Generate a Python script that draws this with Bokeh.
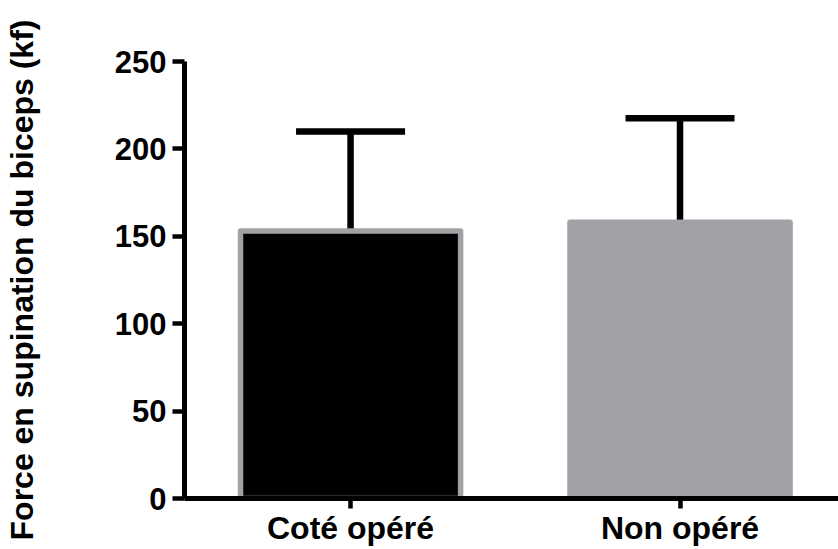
from bokeh.plotting import figure
from bokeh.models import Range1d, FixedTicker, ColumnDataSource, Whisker, TeeHead
from bokeh.embed import file_html
from bokeh.resources import INLINE

categories = ["Coté opéré", "Non opéré"]
means = [153, 158]
sds = [57, 59.5]
fill_colors = ["#000000", "#a2a1a6"]
y_ticks = [0, 50, 100, 150, 200, 250]

xpos = [i + 0.5 for i in range(len(categories))]
upper = [m + s for m, s in zip(means, sds)]

src = ColumnDataSource(dict(x=xpos, top=means, upper=upper, fill=fill_colors, cat=categories))

p = figure(width=838, height=549, output_backend="svg", toolbar_location=None,
           x_range=Range1d(-0.004, 1.981), y_range=Range1d(0, 250),
           min_border_left=184, min_border_right=0, min_border_top=61, min_border_bottom=51)

p.vbar(x="x", top="top", bottom=0, width=0.668, source=src, fill_color="fill",
       line_color="#a2a1a6", line_width=5.5, line_join="round")

wh = Whisker(source=src, base="x", upper="upper", lower="top", dimension="height",
             line_color="black", line_width=6.5,
             upper_head=TeeHead(size=109, line_color="black", line_width=6.5),
             lower_head=None)
p.add_layout(wh)

p.grid.visible = False
p.outline_line_color = None
p.background_fill_color = "white"
p.border_fill_color = "white"

font = "Liberation Sans"

p.yaxis.ticker = FixedTicker(ticks=y_ticks)
p.yaxis.axis_label = "Force en supination du biceps (kf)"
p.yaxis.axis_label_text_font = font
p.yaxis.axis_label_text_font_style = "bold"
p.yaxis.axis_label_text_font_size = "32px"
p.yaxis.axis_label_text_color = "black"
p.yaxis.axis_label_standoff = 72
p.yaxis.major_label_text_font = font
p.yaxis.major_label_text_font_style = "bold"
p.yaxis.major_label_text_font_size = "31px"
p.yaxis.major_label_text_color = "black"
p.yaxis.major_label_standoff = 6
p.yaxis.major_tick_out = 12

p.xaxis.ticker = FixedTicker(ticks=xpos)
p.xaxis.major_label_overrides = {x: c for x, c in zip(xpos, categories)}
p.xaxis.major_label_text_font = font
p.xaxis.major_label_text_font_style = "bold"
p.xaxis.major_label_text_font_size = "32px"
p.xaxis.major_label_text_color = "black"
p.xaxis.major_label_standoff = 1
p.xaxis.major_tick_out = 10

for ax in (p.xaxis, p.yaxis):
    ax.axis_line_width = 5
    ax.axis_line_color = "black"
    ax.major_tick_line_width = 4.5
    ax.major_tick_line_color = "black"
    ax.major_tick_in = 0
    ax.minor_tick_line_color = None

open("out.html", "w").write(file_html(p, INLINE))
